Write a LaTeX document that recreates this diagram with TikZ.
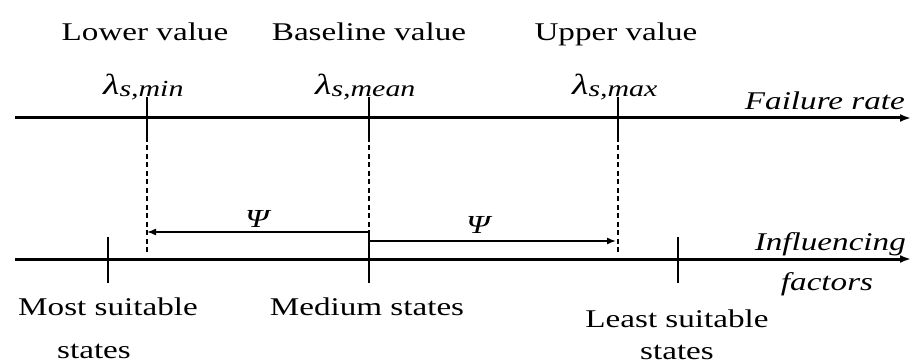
\documentclass[tikz,border=0pt]{standalone}
\usepackage{fontspec}
\setmainfont{Liberation Serif}[FakeStretch=1.3]
\usetikzlibrary{arrows.meta}
\newcommand{\lamsub}[1]{{\fontsize{29}{29}\selectfont\itshape λ}\raisebox{-2pt}{\fontsize{23}{23}\selectfont\itshape #1}}
\begin{document}
\begin{tikzpicture}[x=1pt,y=-1pt,
  axis/.style={line width=3pt,-{Latex[length=11pt,width=8pt]}},
  tickline/.style={line width=2.6pt},
  dashline/.style={line width=1.5pt,dash pattern=on 5pt off 3.5pt},
  psiline/.style={line width=1.5pt},
  lbl/.style={inner sep=0pt,anchor=base,font=\fontsize{25.5}{30}\selectfont},
  ilbl/.style={inner sep=0pt,font=\fontsize{25.5}{30}\selectfont\itshape},
  lam/.style={inner sep=0pt,anchor=base west},
  psi/.style={inner sep=0pt,anchor=base,font=\fontsize{26}{30}\selectfont\itshape}]
\useasboundingbox (0,0) rectangle (912,363);
% coordinates
\coordinate (ta) at (15,118);
\coordinate (tb) at (911,118);
\coordinate (ba) at (15,259);
\coordinate (bb) at (911,259);
\coordinate (m1) at (147,97); \coordinate (m1b) at (147,137); \coordinate (m1c) at (147,253);
\coordinate (m2) at (369,97); \coordinate (m2b) at (369,137); \coordinate (m2c) at (369,232);
\coordinate (m3) at (618,97); \coordinate (m3b) at (618,137); \coordinate (m3c) at (618,253);
\coordinate (pl) at (147,232);
\coordinate (pm) at (369,241);
\coordinate (pr) at (616,241);
\coordinate (b1) at (108,237); \coordinate (b1b) at (108,283);
\coordinate (b2) at (369,241); \coordinate (b2b) at (369,283);
\coordinate (b3) at (678,237); \coordinate (b3b) at (678,283);
% axes
\draw[axis] (ta) -- (tb);
\draw[axis] (ba) -- (bb);
% top ticks and dashed drops
\draw[tickline] (m1) -- (m1b);
\draw[tickline] (m2) -- (m2b);
\draw[tickline] (m3) -- (m3b);
\draw[dashline] (m1b) -- (m1c);
\draw[dashline] (m2b) -- (m2c);
\draw[dashline] (m3b) -- (m3c);
% psi arrows
\draw[psiline,{Latex[length=9pt,width=7pt]}-{Latex[length=9pt,width=7pt]}] (pl) -- (m2c) -- (pm) -- (pr);
% bottom ticks
\draw[tickline] (b1) -- (b1b);
\draw[tickline] (b2) -- (b2b);
\draw[tickline] (b3) -- (b3b);
% labels
\node[lbl] (lv) at (145,41) {Lower value};
\node[lbl] (bv) at (369,41) {Baseline value};
\node[lbl] (uv) at (616,41) {Upper value};
\node[lam] (l1) at (103,95) {\lamsub{s,min}};
\node[lam] (l2) at (315,95) {\lamsub{s,mean}};
\node[lam] (l3) at (572,95) {\lamsub{s,max}};
\node[ilbl,anchor=base east] (fr) at (905,110) {Failure rate};
\node[ilbl,anchor=base east] (inf) at (906,251) {Influencing};
\node[ilbl,anchor=base] (fac) at (827,290) {factors};
\node[psi] (p1) at (257,228) {Ψ};
\node[psi] (p2) at (478,234) {Ψ};
\node[lbl] (ms) at (108,315) {Most suitable};
\node[lbl] (ms2) at (94,358) {states};
\node[lbl] (md) at (367,315) {Medium states};
\node[lbl] (ls) at (677,327) {Least suitable};
\node[lbl] (ls2) at (677,359) {states};
\end{tikzpicture}
\end{document}
